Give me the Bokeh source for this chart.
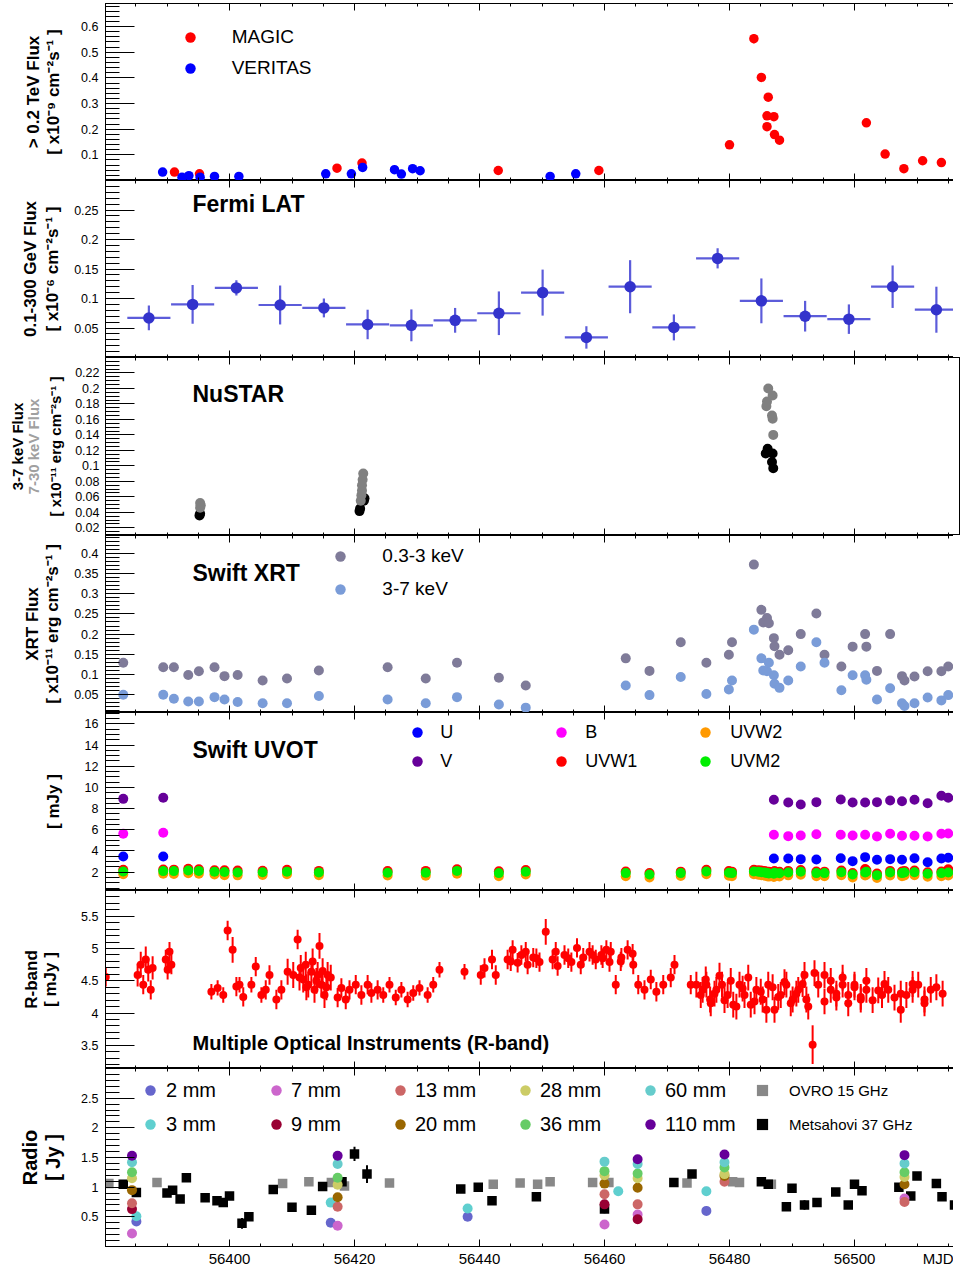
import numpy as np
from bokeh.plotting import figure
from bokeh.models import LinearAxis, FixedTicker, Range1d, Label, Legend, LegendItem
from bokeh.layouts import column
from bokeh.embed import file_html
from bokeh.resources import INLINE

FONT = "Liberation Sans"
X_START, X_END = 56380.16, 56516.8

# ---------------- VHE ----------------
magic_mjd = [56391.2, 56395.2, 56417.2, 56421.2, 56443.0, 56459.1, 56480.0, 56483.9, 56485.1, 56486.2,
             56486.0, 56487.1, 56486.0, 56487.2, 56488.0, 56501.9, 56504.9, 56507.9, 56510.9, 56513.9]
magic_flux = [0.033, 0.026, 0.048, 0.068, 0.039, 0.039, 0.139, 0.553, 0.402, 0.325,
              0.252, 0.249, 0.210, 0.179, 0.157, 0.225, 0.103, 0.046, 0.077, 0.070]
magic_err = [0.008, 0.008, 0.008, 0.008, 0.008, 0.008, 0.010, 0.018, 0.012, 0.012,
             0.010, 0.010, 0.010, 0.010, 0.010, 0.010, 0.008, 0.008, 0.008, 0.008]
veritas_mjd = [56389.3, 56392.4, 56393.5, 56395.3, 56397.6, 56401.5, 56415.4, 56419.5, 56421.3, 56426.4,
               56427.5, 56429.3, 56430.5, 56451.3, 56455.4]
veritas_flux = [0.033, 0.013, 0.019, 0.013, 0.016, 0.016, 0.026, 0.026, 0.051, 0.042,
                0.025, 0.046, 0.038, 0.016, 0.026]

# ---------------- Fermi ----------------
fermi_mjd = [56387.1, 56394.1, 56401.1, 56408.1, 56415.1, 56422.1, 56429.1, 56436.1, 56443.1, 56450.1,
             56457.1, 56464.1, 56471.1, 56478.1, 56485.1, 56492.1, 56499.1, 56506.1, 56513.1]
fermi_flux = [0.067, 0.090, 0.118, 0.089, 0.084, 0.056, 0.0545, 0.063, 0.075, 0.110,
              0.034, 0.120, 0.051, 0.168, 0.096, 0.070, 0.065, 0.120, 0.081]
fermi_err = [0.021, 0.033, 0.013, 0.033, 0.016, 0.025, 0.027, 0.021, 0.037, 0.039,
             0.019, 0.045, 0.022, 0.017, 0.038, 0.026, 0.025, 0.036, 0.039]
fermi_halfbin = [3.45] * 19

# ---------------- NuSTAR ----------------
nu_soft_mjd = [56395.2, 56395.3, 56420.8, 56420.9, 56421.6, 56421.5, 56486.1, 56485.8, 56486.9, 56486.8, 56487.0]
nu_soft_flux = [0.036, 0.038, 0.0415, 0.045, 0.058, 0.055, 0.122, 0.116, 0.116, 0.105, 0.097]
nu_hard_mjd = [56395.3, 56395.4, 56395.3, 56421.0, 56421.1, 56421.2, 56421.2, 56421.3, 56421.4,
               56486.2, 56486.9, 56486.0, 56485.9, 56486.8, 56486.9, 56487.0]
nu_hard_flux = [0.046, 0.049, 0.052, 0.055, 0.062, 0.068, 0.075, 0.082, 0.090,
                0.200, 0.191, 0.183, 0.177, 0.165, 0.161, 0.140]

# ---------------- Swift XRT ----------------
xrt_mjd = [56383.0, 56389.4, 56391.1, 56393.4, 56395.1, 56397.6, 56399.2, 56401.3, 56405.3, 56409.2,
           56414.3, 56425.3, 56431.4, 56436.4, 56443.1, 56447.4, 56463.4, 56467.2, 56472.2, 56476.3,
           56479.9, 56480.4, 56483.9, 56485.1, 56486.0, 56485.4, 56486.3, 56487.1, 56487.2, 56488.0,
           56489.4, 56491.4, 56493.9, 56495.2, 56497.9, 56499.7, 56501.7, 56501.9, 56503.6, 56505.7,
           56507.6, 56508.0, 56509.6, 56511.7, 56513.9, 56515.0, 56516.8]
xrt_soft = [0.129, 0.118, 0.118, 0.099, 0.108, 0.118, 0.096, 0.099, 0.085, 0.090,
            0.110, 0.118, 0.090, 0.129, 0.092, 0.073, 0.140, 0.109, 0.180, 0.129,
            0.149, 0.180, 0.372, 0.260, 0.240, 0.229, 0.227, 0.190, 0.170, 0.149,
            0.160, 0.200, 0.251, 0.149, 0.120, 0.169, 0.200, 0.169, 0.109, 0.200,
            0.096, 0.085, 0.095, 0.108, 0.108, 0.120, 0.100]
xrt_hard = [0.050, 0.050, 0.040, 0.033, 0.033, 0.044, 0.038, 0.032, 0.029, 0.029,
            0.047, 0.038, 0.029, 0.044, 0.026, 0.018, 0.073, 0.049, 0.094, 0.052,
            0.063, 0.085, 0.211, 0.140, 0.108, 0.110, 0.129, 0.098, 0.077, 0.067,
            0.085, 0.120, 0.180, 0.129, 0.061, 0.098, 0.098, 0.087, 0.038, 0.066,
            0.029, 0.022, 0.029, 0.043, 0.036, 0.049, 0.036]

# ---------------- Swift UVOT ----------------
uv_mjd = [56383.0, 56389.4, 56391.1, 56393.4, 56395.1, 56397.6, 56399.2, 56401.3, 56405.3, 56409.2,
          56414.3, 56425.3, 56431.4, 56436.4, 56443.1, 56447.4, 56463.4, 56467.2, 56472.2, 56476.3,
          56479.9, 56480.4, 56483.9, 56484.6, 56485.1, 56485.6, 56486.0, 56486.3, 56487.1, 56487.2,
          56488.0, 56489.4, 56491.4, 56493.9, 56495.2, 56497.9, 56499.7, 56501.7, 56501.9, 56503.6,
          56505.7, 56507.6, 56508.0, 56509.6, 56511.7, 56513.9, 56515.0]
uvm2 = [2.07, 2.10, 2.10, 2.15, 2.12, 2.05, 2.02, 1.98, 2.00, 2.05,
        1.98, 1.95, 1.95, 2.12, 1.91, 2.04, 1.91, 1.78, 1.91, 2.07,
        1.95, 1.91, 2.07, 2.04, 2.00, 1.97, 1.91, 1.88, 1.85, 1.95,
        1.90, 1.97, 2.04, 1.91, 1.91, 2.00, 1.78, 1.97, 2.04, 1.72,
        1.97, 1.91, 1.97, 2.00, 1.85, 1.91, 1.97]
uvw1 = [2.22, 2.25, 2.24, 2.32, 2.28, 2.18, 2.17, 2.15, 2.14, 2.22,
        2.12, 2.10, 2.12, 2.28, 2.08, 2.20, 2.07, 1.92, 2.05, 2.22,
        2.10, 2.05, 2.22, 2.18, 2.15, 2.12, 2.05, 2.03, 2.00, 2.10,
        2.04, 2.12, 2.20, 2.06, 2.05, 2.15, 1.93, 2.30, 2.18, 1.88,
        2.12, 2.06, 2.12, 2.15, 2.00, 2.06, 2.28]
uvw2 = [1.80, 1.85, 1.83, 1.90, 1.86, 1.78, 1.72, 1.70, 1.74, 1.80,
        1.72, 1.68, 1.66, 1.85, 1.62, 1.78, 1.62, 1.50, 1.64, 1.80,
        1.66, 1.62, 1.80, 1.76, 1.72, 1.68, 1.62, 1.58, 1.55, 1.66,
        1.60, 1.70, 1.76, 1.62, 1.62, 1.72, 1.50, 1.68, 1.76, 1.45,
        1.68, 1.62, 1.68, 1.72, 1.56, 1.62, 1.68]
opt_mjd = [56383.0, 56389.4, 56487.1, 56489.4, 56491.4, 56493.9, 56497.8, 56499.7, 56501.7, 56503.6,
           56505.7, 56507.6, 56509.6, 56511.7, 56513.9, 56515.0]
v_band = [8.92, 9.02, 8.83, 8.58, 8.39, 8.61, 8.86, 8.58, 8.58, 8.61, 8.76, 8.70, 8.83, 8.51, 9.21, 9.02]
b_band = [5.62, 5.72, 5.53, 5.40, 5.46, 5.58, 5.53, 5.46, 5.53, 5.37, 5.62, 5.43, 5.43, 5.37, 5.62, 5.65]
u_band = [3.48, 3.48, 3.29, 3.29, 3.23, 3.20, 3.32, 3.04, 3.42, 3.17, 3.23, 3.17, 3.32, 2.94, 3.29, 3.36]

# ---------------- R band ----------------
r_mjd = [56380.2, 56385.3, 56385.8, 56386.2, 56386.6, 56387.0, 56387.4, 56387.7, 56389.8, 56390.1,
         56390.4, 56390.7, 56397.1, 56398.1, 56399.0, 56399.7, 56400.5, 56401.1, 56401.6, 56402.2,
         56403.5, 56404.2, 56405.1, 56405.8, 56406.4, 56407.5, 56408.3, 56409.3, 56410.2, 56410.9,
         56411.2, 56411.8, 56412.2, 56412.6, 56413.1, 56413.6, 56414.1, 56414.4, 56414.7, 56415.2,
         56415.7, 56417.3, 56417.9, 56418.6, 56419.2, 56420.2, 56421.1, 56422.1, 56422.7, 56423.7,
         56424.6, 56425.6, 56426.6, 56427.5, 56428.5, 56429.4, 56430.4, 56431.7, 56432.6, 56433.6,
         56437.6, 56440.2, 56440.8, 56442.0, 56442.6, 56444.5, 56445.3, 56446.1, 56446.7, 56447.7,
         56448.6, 56449.6, 56450.6, 56451.7, 56452.5, 56453.6, 56454.7, 56455.6, 56456.6, 56457.6,
         56458.6, 56459.5, 56460.3, 56460.8, 56461.8, 56462.7, 56463.7, 56464.6, 56465.4, 56466.4,
         56467.4, 56468.3, 56469.4, 56470.6, 56471.2, 56473.8, 56474.7, 56475.4, 56476.3, 56476.9,
         56477.9, 56478.8, 56479.7, 56480.6, 56481.6, 56482.4, 56483.4, 56484.3, 56485.3, 56486.2,
         56487.2, 56488.2, 56489.1, 56490.1, 56491.0, 56492.0, 56492.3, 56493.3, 56494.2, 56495.2,
         56496.2, 56497.1, 56498.1, 56499.0, 56500.0, 56501.0, 56501.9, 56504.4, 56505.4, 56506.4,
         56507.4, 56508.3, 56509.3, 56510.2, 56511.2, 56512.2,
         56475.7, 56476.2, 56477.0, 56477.6, 56478.4, 56479.2, 56480.2, 56481.1, 56482.1, 56483.0,
         56484.0, 56485.0, 56485.9, 56486.9, 56487.8, 56488.8, 56489.8, 56490.7, 56491.7, 56492.6,
         56493.6, 56495.2, 56496.2, 56497.1, 56498.1, 56499.0, 56500.0, 56501.0, 56501.9, 56502.9,
         56503.8, 56504.8, 56411.4, 56412.3, 56413.3, 56413.9, 56414.9, 56415.5, 56416.2, 56459.7,
         56461.0, 56462.6, 56464.5, 56445.0, 56447.4, 56449.1, 56452.2, 56454.2, 56456.2, 56458.1,
         56507.4, 56509.3, 56511.2, 56513.1, 56514.1]
r_flux = [4.56, 4.59, 4.75, 4.44, 4.83, 4.67, 4.36, 4.70, 4.83, 4.67,
          4.95, 4.75, 4.33, 4.39, 4.28, 5.28, 4.98, 4.41, 4.44, 4.25,
          4.44, 4.72, 4.28, 4.36, 4.59, 4.21, 4.36, 4.64, 4.59, 5.14,
          4.55, 4.52, 4.75, 4.44, 4.64, 4.36, 4.59, 5.04, 4.44, 4.28,
          4.59, 4.24, 4.39, 4.21, 4.36, 4.44, 4.28, 4.44, 4.31, 4.36,
          4.28, 4.44, 4.24, 4.36, 4.21, 4.31, 4.39, 4.28, 4.44, 4.67,
          4.64, 4.59, 4.70, 4.83, 4.59, 4.83, 4.98, 4.78, 4.90, 4.75,
          4.86, 4.79, 5.26, 4.83, 4.73, 4.90, 4.79, 5.01, 4.86, 4.95,
          4.83, 4.90, 4.98, 4.79, 4.44, 4.86, 4.98, 4.75, 4.44, 4.36,
          4.52, 4.33, 4.44, 4.55, 4.75, 4.44, 4.44, 4.28, 4.44, 4.21,
          4.36, 4.44, 4.28, 4.13, 4.44, 4.28, 4.13, 4.36, 4.21, 4.44,
          4.05, 4.28, 4.44, 4.21, 4.36, 4.59, 4.21, 3.51, 4.44, 4.59,
          4.36, 4.24, 4.44, 4.28, 4.44, 4.21, 4.36, 4.28, 4.36, 4.24,
          4.05, 4.28, 4.36, 4.44, 4.21, 4.36,
          4.36, 4.52, 4.15, 4.30, 4.58, 4.20, 4.50, 4.10, 4.38, 4.55,
          4.18, 4.33, 4.05, 4.40, 4.25, 4.48, 4.15, 4.30, 4.45, 4.10,
          4.62, 4.18, 4.50, 4.30, 4.55, 4.15, 4.40, 4.25, 4.50, 4.20,
          4.35, 4.45, 4.70, 4.40, 4.80, 4.50, 4.65, 4.40, 4.55, 4.85,
          4.95, 4.80, 4.92, 4.80, 4.95, 4.85, 4.95, 4.85, 4.75, 4.90,
          4.30, 4.45, 4.15, 4.40, 4.30]
r_err = [0.15, 0.18, 0.2, 0.15, 0.2, 0.18, 0.15, 0.18, 0.15, 0.15,
         0.15, 0.15, 0.12, 0.12, 0.12, 0.15, 0.2, 0.15, 0.12, 0.15,
         0.12, 0.15, 0.12, 0.15, 0.15, 0.15, 0.15, 0.2, 0.2, 0.15,
         0.2, 0.2, 0.2, 0.2, 0.2, 0.2, 0.2, 0.2, 0.2, 0.2,
         0.2, 0.15, 0.15, 0.15, 0.15, 0.15, 0.15, 0.15, 0.15, 0.15,
         0.12, 0.12, 0.12, 0.12, 0.12, 0.12, 0.12, 0.12, 0.12, 0.12,
         0.12, 0.15, 0.15, 0.15, 0.15, 0.15, 0.15, 0.15, 0.15, 0.15,
         0.15, 0.15, 0.2, 0.15, 0.15, 0.15, 0.15, 0.15, 0.15, 0.15,
         0.15, 0.15, 0.15, 0.15, 0.15, 0.15, 0.15, 0.15, 0.15, 0.15,
         0.15, 0.15, 0.15, 0.15, 0.15, 0.15, 0.2, 0.2, 0.2, 0.2,
         0.2, 0.2, 0.2, 0.2, 0.2, 0.2, 0.2, 0.2, 0.2, 0.2,
         0.2, 0.2, 0.2, 0.2, 0.2, 0.2, 0.2, 0.3, 0.2, 0.2,
         0.2, 0.2, 0.2, 0.2, 0.2, 0.2, 0.2, 0.2, 0.2, 0.2,
         0.2, 0.2, 0.2, 0.2, 0.2, 0.2,
         0.2, 0.2, 0.2, 0.2, 0.2, 0.2, 0.2, 0.2, 0.2, 0.2,
         0.2, 0.2, 0.2, 0.2, 0.2, 0.2, 0.2, 0.2, 0.2, 0.2,
         0.2, 0.2, 0.2, 0.2, 0.2, 0.2, 0.2, 0.2, 0.2, 0.2,
         0.2, 0.2, 0.2, 0.2, 0.2, 0.2, 0.2, 0.2, 0.2, 0.15,
         0.15, 0.15, 0.15, 0.15, 0.15, 0.15, 0.15, 0.15, 0.15, 0.15,
         0.2, 0.2, 0.2, 0.2, 0.2]

# ---------------- Radio ----------------
ovro_mjd = [56380.7, 56388.4, 56408.5, 56412.7, 56416.3, 56418.4, 56425.6, 56442.2, 56446.5, 56449.3,
            56451.3, 56458.1, 56460.7, 56473.2, 56480.5, 56481.6, 56486.7, 56516.8]
ovro_flux = [1.06, 1.08, 1.06, 1.09, 1.08, 1.02, 1.07, 1.05, 1.07, 1.05,
             1.09, 1.08, 1.08, 1.07, 1.09, 1.08, 1.05, 1.10]
metsa_mjd = [56383.0, 56385.1, 56390.0, 56390.9, 56392.1, 56393.1, 56396.1, 56398.0, 56399.0, 56400.0,
             56402.0, 56403.1, 56407.0, 56410.0, 56413.1, 56414.9, 56418.0, 56420.0, 56422.0, 56437.0,
             56439.8, 56442.0, 56449.1, 56460.0, 56471.1, 56474.0, 56485.1, 56486.2, 56489.1, 56490.0,
             56492.0, 56494.0, 56497.0, 56499.0, 56500.0, 56501.2, 56507.1, 56509.0, 56510.0, 56513.1,
             56514.0, 56516.0]
metsa_flux = [1.05, 0.91, 0.90, 0.95, 0.80, 1.16, 0.82, 0.77, 0.74, 0.85,
              0.39, 0.50, 0.96, 0.66, 0.61, 1.01, 1.09, 1.56, 1.22, 0.97,
              1.00, 0.77, 0.84, 0.63, 1.08, 1.22, 1.09, 1.05, 0.67, 0.98,
              0.70, 0.74, 0.92, 0.70, 1.05, 0.94, 1.00, 0.85, 1.19, 1.06,
              0.84, 0.70]
metsa_err = [0.04, 0.04, 0.04, 0.04, 0.04, 0.07, 0.05, 0.05, 0.05, 0.05,
             0.09, 0.05, 0.05, 0.06, 0.06, 0.06, 0.05, 0.12, 0.15, 0.05,
             0.04, 0.04, 0.04, 0.07, 0.04, 0.06, 0.04, 0.04, 0.04, 0.07,
             0.08, 0.04, 0.04, 0.04, 0.07, 0.04, 0.04, 0.04, 0.04, 0.05,
             0.04, 0.10]
fg_2mm_mjd, fg_2mm = [56385.1, 56416.2, 56438.1, 56476.3], [0.42, 0.40, 0.50, 0.60]
fg_3mm_mjd, fg_3mm = [56385.1, 56416.2, 56438.1, 56462.2, 56476.3], [0.51, 0.74, 0.64, 0.93, 0.93]
fg_7mm_mjd, fg_7mm = [56384.4, 56417.3, 56460.0, 56465.3, 56508.0], [0.22, 0.35, 0.37, 0.54, 0.81]
fg_9mm_mjd, fg_9mm = [56384.4, 56460.0, 56465.3], [0.63, 0.71, 0.46]
fg_13mm_mjd, fg_13mm = [56384.4, 56417.3, 56460.0, 56465.3, 56479.2, 56508.0], [0.73, 0.67, 0.88, 0.71, 1.09, 0.75]
fg_20mm_mjd, fg_20mm = [56384.4, 56417.3, 56460.0, 56465.3, 56479.2, 56508.0], [0.95, 0.83, 1.06, 0.99, 1.19, 1.05]
fg_28mm_mjd, fg_28mm = [56384.4, 56417.3, 56460.0, 56465.3, 56479.2, 56508.0], [1.15, 1.04, 1.20, 1.15, 1.22, 1.17]
fg_36mm_mjd, fg_36mm = [56384.4, 56417.3, 56460.0, 56465.3, 56479.2, 56508.0], [1.25, 1.16, 1.27, 1.23, 1.33, 1.25]
fg_60mm_mjd, fg_60mm = [56384.4, 56417.3, 56460.0, 56465.3, 56479.2, 56508.0], [1.42, 1.39, 1.43, 1.39, 1.42, 1.40]
fg_110mm_mjd, fg_110mm = [56384.4, 56417.3, 56465.3, 56479.2, 56508.0], [1.53, 1.53, 1.47, 1.55, 1.54]

x_tick_labels = {56400: "56400", 56420: "56420", 56440: "56440", 56460: "56460",
                 56480: "56480", 56500: "56500", 56513.6: "MJD"}

# ======================================================================
xr = Range1d(X_START, X_END)


def steps(a, b, s):
    return [round(float(v), 6) for v in np.arange(a, b + s / 2, s)]


def tick_axis(p, loc, ticks, length):
    ax = LinearAxis(ticker=FixedTicker(ticks=[], minor_ticks=ticks),
                    minor_tick_in=length, minor_tick_out=0, major_tick_in=0, major_tick_out=0,
                    axis_line_color="black", minor_tick_line_color="black",
                    major_tick_line_color=None, major_label_standoff=0)
    p.add_layout(ax, loc)


def make_panel(fh, y0, y1, majors, minor_step, last=False, top_border=0, lab_standoff=7):
    p = figure(frame_width=854, frame_height=fh, x_range=xr, y_range=Range1d(y0, y1),
               output_backend="svg", toolbar_location=None,
               x_axis_location=None, y_axis_location=None,
               min_border_left=98, min_border_right=1, min_border_top=top_border, min_border_bottom=0)
    p.xgrid.visible = False
    p.ygrid.visible = False
    p.outline_line_color = "black"
    p.outline_line_width = 1
    p.border_fill_color = "white"
    xmaj = steps(56380, 56520, 20)
    xmin = steps(56380, 56520, 5)
    for loc in ("below", "above"):
        tick_axis(p, loc, xmaj, 7)
        tick_axis(p, loc, xmin, 3)
    if last:
        lab = LinearAxis(ticker=FixedTicker(ticks=list(x_tick_labels.keys())),
                         major_label_overrides=x_tick_labels,
                         axis_line_color=None, major_tick_line_color=None, minor_tick_line_color=None,
                         major_tick_in=0, major_tick_out=0, minor_tick_in=0, minor_tick_out=0,
                         major_label_text_font=FONT, major_label_text_font_size="15px",
                         major_label_text_color="black", major_label_standoff=3)
        p.add_layout(lab, "below")
    ymin = steps(y0 - (y0 % minor_step), y1, minor_step)
    yt = FixedTicker(ticks=majors, minor_ticks=ymin)
    ya = LinearAxis(ticker=yt, major_tick_in=29, major_tick_out=0, minor_tick_in=14, minor_tick_out=0,
                    axis_line_color="black", major_tick_line_color="black", minor_tick_line_color="black",
                    major_label_text_font=FONT, major_label_text_font_size="12.5px",
                    major_label_text_color="black", major_label_standoff=lab_standoff,
                    major_label_overrides={v: f"{v:g}" for v in majors})
    p.add_layout(ya, "left")
    p.add_layout(LinearAxis(ticker=FixedTicker(ticks=[]), axis_line_color="black",
                            major_tick_out=0, minor_tick_out=0, major_label_standoff=0), "right")
    return p


def ylabel(p, text, standoff, size="17px", color="black"):
    ax = LinearAxis(ticker=FixedTicker(ticks=[]), axis_label=text, axis_label_text_font=FONT,
                    axis_label_text_font_style="bold", axis_label_text_font_size=size,
                    axis_label_text_color=color, axis_label_standoff=standoff,
                    axis_line_color=None, major_tick_line_color=None, minor_tick_line_color=None,
                    major_tick_out=0, minor_tick_out=0, major_label_standoff=0)
    p.add_layout(ax, "left")


def title(p, text, x, y, size="23px"):
    p.add_layout(Label(x=x, y=y, x_units="screen", y_units="screen", text=text, text_font=FONT,
                       text_font_style="bold", text_font_size=size, text_baseline="middle",
                       text_align="left", text_color="black"))


def legend(p, items, loc, standoff, size, spacing, g=26):
    lg = Legend(items=[LegendItem(label=l, renderers=[r]) for l, r in items], location=loc,
                orientation="vertical", background_fill_alpha=0, border_line_alpha=0,
                padding=0, margin=0, spacing=spacing, glyph_width=g, glyph_height=g,
                label_height=g, label_standoff=standoff, label_text_font=FONT,
                label_text_font_size=size, label_text_color="black")
    p.add_layout(lg)


def dots(p, x, y, color, size=9.5, marker="circle"):
    return p.scatter(x, y, size=size, marker=marker, fill_color=color, line_color=None)


def yerr(p, x, y, e, color, width=2, alpha=1.0):
    x = np.asarray(x); y = np.asarray(y); e = np.asarray(e)
    p.segment(x, y - e, x, y + e, line_color=color, line_width=width, line_alpha=alpha)


# ---- panel 1: VHE
p1 = make_panel(177, 0.0, 0.69, [0.1, 0.2, 0.3, 0.4, 0.5, 0.6], 0.02, top_border=3)
yerr(p1, magic_mjd, magic_flux, magic_err, "#ff0000", 1.5)
r_magic = dots(p1, magic_mjd, magic_flux, "#ff0000")
r_ver = dots(p1, veritas_mjd, veritas_flux, "#0000ff")
ylabel(p1, "[ x10\u207b\u2079 cm\u207b\u00b2s\u207b\u00b9 ]", 16)
ylabel(p1, "> 0.2 TeV Flux", -2)
legend(p1, [("MAGIC", r_magic), ("VERITAS", r_ver)], (87, 99), 29, "19px", 5)

# ---- panel 2: Fermi
p2 = make_panel(177, 0.0, 0.3, [0.05, 0.1, 0.15, 0.2, 0.25], 0.01)
fx = np.asarray(fermi_mjd); fy = np.asarray(fermi_flux); fh = np.asarray(fermi_halfbin)
p2.segment(fx - fh, fy, fx + fh, fy, line_color="#4040d4", line_width=2.2, line_alpha=0.85)
yerr(p2, fermi_mjd, fermi_flux, fermi_err, "#4040d4", 2.2, 0.85)
dots(p2, fermi_mjd, fermi_flux, "#3333cc", size=11.5)
ylabel(p2, "[ x10\u207b\u2076 cm\u207b\u00b2s\u207b\u00b9 ]", 10)
ylabel(p2, "0.1-300 GeV Flux", 0)
title(p2, "Fermi LAT", 87, 154)

# ---- panel 3: NuSTAR
p3 = make_panel(178, 0.01, 0.24, [0.02, 0.04, 0.06, 0.08, 0.1, 0.12, 0.14, 0.16, 0.18, 0.2, 0.22], 0.005,
                lab_standoff=6)
dots(p3, nu_soft_mjd, nu_soft_flux, "#000000", size=10)
dots(p3, nu_hard_mjd, nu_hard_flux, "#808080", size=10)
ylabel(p3, "[ x10\u207b\u00b9\u00b9 erg cm\u207b\u00b2s\u207b\u00b9 ]", 9, "15px")
ylabel(p3, "7-30 keV Flux", 2, "15px", "#a0a0a0")
ylabel(p3, "3-7 keV Flux", -4, "15px")
p3.add_layout(LinearAxis(ticker=FixedTicker(ticks=[]), axis_label=" ", axis_label_text_font_size="4px",
                         axis_label_text_color="white", axis_label_standoff=-3,
                         axis_line_color=None, major_tick_line_color=None, minor_tick_line_color=None,
                         major_tick_out=0, minor_tick_out=0, major_label_standoff=0), "left")
title(p3, "NuSTAR", 87, 142)

# ---- panel 4: XRT
p4 = make_panel(177, 0.006, 0.444, [0.05, 0.1, 0.15, 0.2, 0.25, 0.3, 0.35, 0.4], 0.01)
r_soft = dots(p4, xrt_mjd, xrt_soft, "#7f7b99", size=10)
r_hard = dots(p4, xrt_mjd, xrt_hard, "#7a9cd8", size=10)
ylabel(p4, "[ x10\u207b\u00b9\u00b9 erg cm\u207b\u00b2s\u207b\u00b9 ]", 10)
ylabel(p4, "XRT Flux", -2)
title(p4, "Swift XRT", 87, 140)
legend(p4, [("0.3-3 keV", r_soft), ("3-7 keV", r_hard)], (237, 110), 29, "19px", 7)

# ---- panel 5: UVOT
p5 = make_panel(178, 0.27, 17.07, [2, 4, 6, 8, 10, 12, 14, 16], 0.5)
r_w2 = dots(p5, uv_mjd, uvw2, "#ff9900", size=10)
r_w1 = dots(p5, uv_mjd, uvw1, "#ff0000", size=10)
r_m2 = dots(p5, uv_mjd, uvm2, "#00ee00", size=10)
r_u = dots(p5, opt_mjd, u_band, "#0000ff", size=10)
r_b = dots(p5, opt_mjd, b_band, "#ff00ff", size=10)
r_v = dots(p5, opt_mjd, v_band, "#660099", size=10)
ylabel(p5, "[ mJy ]", 19)
title(p5, "Swift UVOT", 87, 141)
legend(p5, [("U", r_u), ("V", r_v)], (328, 116), 10, "18px", 3)
legend(p5, [("B", r_b), ("UVW1", r_w1)], (472, 116), 11, "18px", 3)
legend(p5, [("UVW2", r_w2), ("UVM2", r_m2)], (616, 116), 12, "18px", 3)

# ---- panel 6: R band
p6 = make_panel(178, 3.14, 5.9, [3.5, 4, 4.5, 5, 5.5], 0.1)
yerr(p6, r_mjd, r_flux, r_err, "#ff0000", 2)
dots(p6, r_mjd, r_flux, "#ff0000", size=8)
ylabel(p6, "[ mJy ]", 19)
ylabel(p6, "R-band", -3)
title(p6, "Multiple Optical Instruments (R-band)", 87, 26, "20px")

# ---- panel 7: Radio
p7 = make_panel(178, 0.0, 3.0, [0.5, 1, 1.5, 2, 2.5], 0.1, last=True)
r_ovro = dots(p7, ovro_mjd, ovro_flux, "#888888", size=9.5, marker="square")
yerr(p7, metsa_mjd, metsa_flux, metsa_err, "#000000", 2)
r_met = dots(p7, metsa_mjd, metsa_flux, "#000000", size=9.5, marker="square")
r2 = dots(p7, fg_2mm_mjd, fg_2mm, "#6666cc", 10)
r3 = dots(p7, fg_3mm_mjd, fg_3mm, "#5fcfcf", 10)
r7 = dots(p7, fg_7mm_mjd, fg_7mm, "#cc66cc", 10)
r9 = dots(p7, fg_9mm_mjd, fg_9mm, "#990033", 10)
r13 = dots(p7, fg_13mm_mjd, fg_13mm, "#cc6666", 10)
r20 = dots(p7, fg_20mm_mjd, fg_20mm, "#996600", 10)
r28 = dots(p7, fg_28mm_mjd, fg_28mm, "#cccc66", 10)
r36 = dots(p7, fg_36mm_mjd, fg_36mm, "#66cc66", 10)
r60 = dots(p7, fg_60mm_mjd, fg_60mm, "#66cccc", 10)
r110 = dots(p7, fg_110mm_mjd, fg_110mm, "#660099", 10)
ylabel(p7, "[ Jy ]", 15, "20px")
ylabel(p7, "Radio", -2, "20px")
legend(p7, [("2 mm", r2), ("3 mm", r3)], (44, 109), 3, "20px", 8)
legend(p7, [("7 mm", r7), ("9 mm", r9)], (170, 109), 2, "20px", 8)
legend(p7, [("13 mm", r13), ("20 mm", r20)], (294, 109), 2, "20px", 8)
legend(p7, [("28 mm", r28), ("36 mm", r36)], (419, 109), 2, "20px", 8)
legend(p7, [("60 mm", r60), ("110 mm", r110)], (544, 109), 2, "20px", 8)
legend(p7, [("OVRO 15 GHz", r_ovro), ("Metsahovi 37 GHz", r_met)], (655, 108), 13, "15px", 6, g=28)

# invisible 1px strip whose blank left axis sets the common left border of the column
spacer = figure(frame_width=854, frame_height=1, x_range=xr, output_backend="svg", toolbar_location=None,
                x_axis_location=None, y_axis_location=None, min_border_left=0, min_border_right=1,
                min_border_top=0, min_border_bottom=0)
spacer.xgrid.visible = False
spacer.ygrid.visible = False
spacer.outline_line_color = None
spacer.add_layout(LinearAxis(ticker=FixedTicker(ticks=[]), axis_label=" ", axis_label_text_font_size="10px",
                             axis_label_text_color="white", axis_label_standoff=82,
                             major_tick_out=0, minor_tick_out=0, major_tick_line_color=None,
                             minor_tick_line_color=None, axis_line_color=None,
                             major_label_standoff=0), "left")

page = column(p1, p2, p3, p4, p5, p6, p7, spacer, spacing=0)
open("out.html", "w").write(file_html(page, INLINE))
